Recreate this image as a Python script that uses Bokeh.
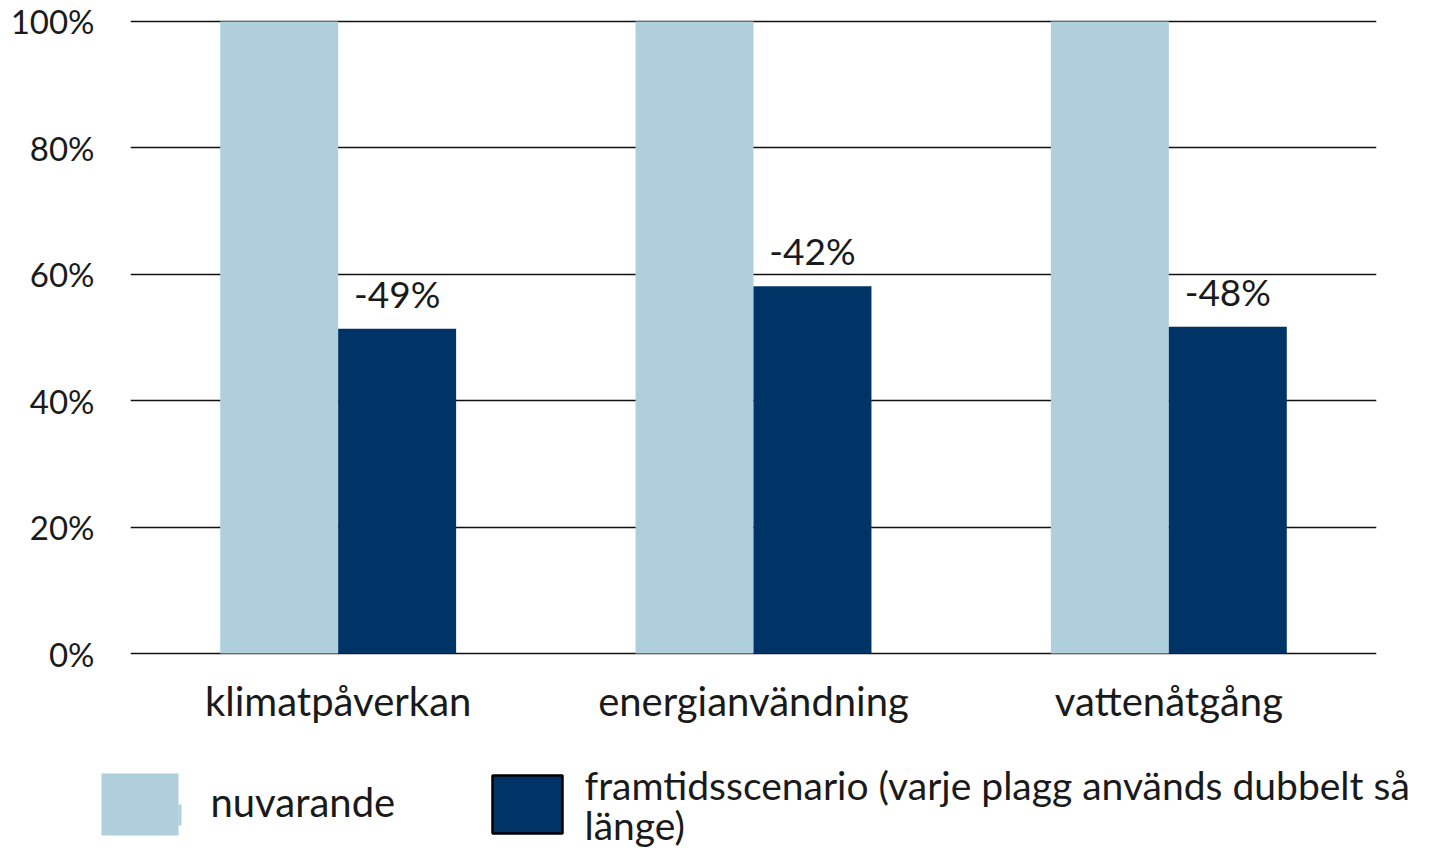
from bokeh.plotting import figure
from bokeh.models import ColumnDataSource, FactorRange, Range1d, NumeralTickFormatter, LabelSet
from bokeh.transform import dodge
from bokeh.core.properties import value
from bokeh.embed import file_html
from bokeh.resources import INLINE

categories = ["klimatpåverkan", "energianvändning", "vattenåtgång"]
nuvarande = [1.00, 1.00, 1.00]
framtid = [0.514, 0.581, 0.517]
labels = ["-49%", "-42%", "-48%"]
series_names = ["nuvarande", "framtidsscenario (varje plagg används dubbelt så\nlänge)"]
yticks = [0, 0.2, 0.4, 0.6, 0.8, 1.0]

LIGHT = "#AECFDB"
DARK = "#003366"
FONT = "Lato"
TXT = "#1a1a1a"

src = ColumnDataSource(dict(cat=categories, now=nuvarande, fut=framtid, lbl=labels))

W = 1417
H1 = 745
p = figure(width=W, height=H1, x_range=FactorRange(*categories, range_padding=0),
           y_range=Range1d(-0.003, 1.003), output_backend="svg", toolbar_location=None,
           min_border_left=130, min_border_right=W - 1376, min_border_top=19,
           min_border_bottom=H1 - 655)
p.outline_line_color = None

bw = 0.284
p.vbar(x=dodge("cat", -0.142, range=p.x_range), top="now", width=bw, source=src,
       fill_color=LIGHT, line_color=None)
p.vbar(x=dodge("cat", 0.142, range=p.x_range), top="fut", width=bw, source=src,
       fill_color=DARK, line_color=None)
p.add_layout(LabelSet(x=dodge("cat", 0.142, range=p.x_range), y="fut", text="lbl", source=src,
                      text_align="center", text_baseline="alphabetic", y_offset=21,
                      text_font=value(FONT), text_font_size="37px", text_color=TXT))

p.yaxis.ticker = yticks
p.yaxis.formatter = NumeralTickFormatter(format="0%")
p.yaxis.axis_line_color = None
p.yaxis.major_tick_line_color = None
p.yaxis.minor_tick_line_color = None
p.yaxis.major_label_standoff = 30
p.yaxis.major_label_text_font = FONT
p.yaxis.major_label_text_font_size = "33px"
p.yaxis.major_label_text_color = TXT

p.xaxis.axis_line_color = None
p.xaxis.major_tick_line_color = None
p.xaxis.major_label_standoff = 15
p.xaxis.major_label_text_font = FONT
p.xaxis.major_label_text_font_size = "40px"
p.xaxis.major_label_text_color = TXT

p.xgrid.grid_line_color = None
p.ygrid.ticker = yticks
p.ygrid.grid_line_color = "#111111"
p.ygrid.grid_line_width = 1.5

# legend as a separate strip below (pixel coordinates, y downward)
LH = 850 - H1
lg = figure(width=W, height=LH, x_range=Range1d(0, W), y_range=Range1d(LH, 0),
            output_backend="svg", toolbar_location=None, x_axis_type=None, y_axis_type=None,
            min_border=0, min_border_left=0, min_border_right=0, min_border_top=0,
            min_border_bottom=0)
lg.outline_line_color = None
lg.grid.visible = False

lg.quad(left=[101, 178], right=[178, 181], top=[28, 59], bottom=[90, 80],
        fill_color=LIGHT, line_color=None)
lg.quad(left=[492], right=[562], top=[30], bottom=[88],
        fill_color=DARK, line_color="#000000", line_width=2.5)
lg.text(x=[210], y=[56], text=[series_names[0]], text_baseline="middle",
        text_font=value(FONT), text_font_size="40px", text_color=TXT)
lines2 = series_names[1].split("\n")
lg.text(x=[584] * len(lines2), y=[39, 79][:len(lines2)], text=lines2, text_baseline="middle",
        text_font=value(FONT), text_font_size="39px", text_color=TXT)

open("out.html", "w").write(file_html([p, lg], INLINE))
